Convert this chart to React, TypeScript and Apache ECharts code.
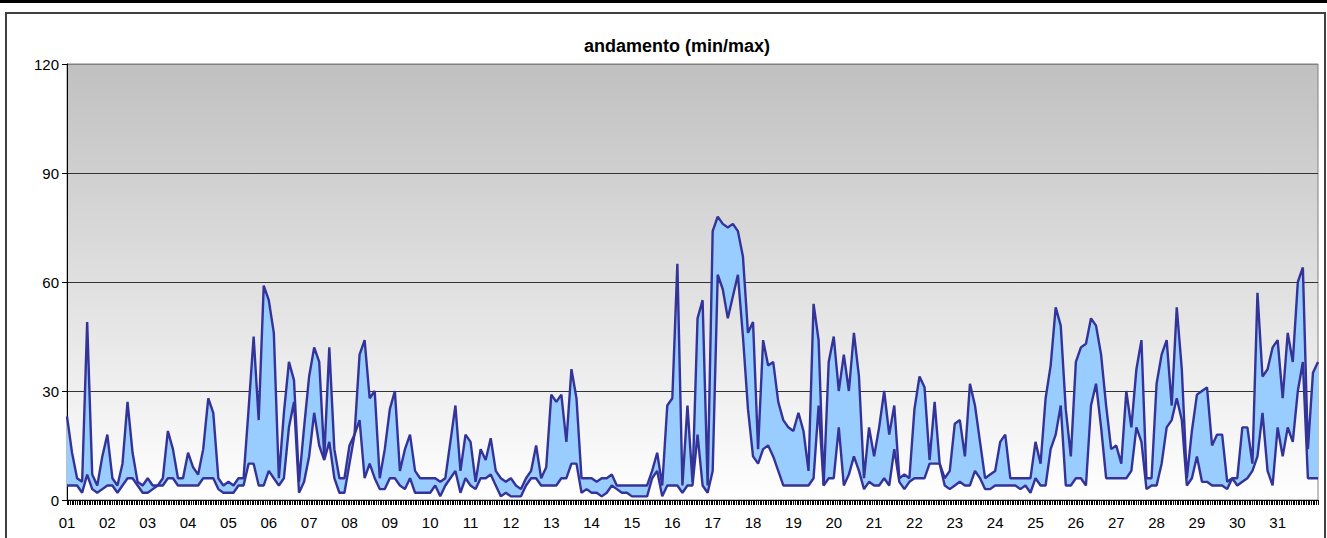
import React, { useEffect, useRef } from "react";
import * as echarts from "echarts";

const title = "andamento (min/max)";
const dayLabels = [
  "01", "02", "03", "04", "05", "06", "07", "08", "09", "10",
  "11", "12", "13", "14", "15", "16", "17", "18", "19", "20",
  "21", "22", "23", "24", "25", "26", "27", "28", "29", "30", "31",
];
const yTicks = [0, 30, 60, 90, 120];
const hoursPerDay = 24;
const hoursPerReading = 3;

// max readings, 8 per day (every 3 hours), plus the closing reading at the right edge
const maxValues = [
  23, 13, 6, 5, 49, 7, 4, 12,
  18, 6, 4, 10, 27, 13, 5, 4,
  6, 4, 4, 6, 19, 14, 6, 6,
  13, 9, 7, 14, 28, 24, 6, 4,
  5, 4, 6, 6, 25, 45, 22, 59,
  55, 46, 6, 24, 38, 33, 5, 20,
  34, 42, 38, 12, 42, 14, 6, 6,
  15, 18, 40, 44, 28, 30, 6, 14,
  25, 30, 8, 14, 18, 8, 6, 6,
  6, 6, 5, 6, 16, 26, 8, 18,
  16, 5, 14, 11, 17, 8, 6, 5,
  6, 4, 3, 6, 8, 15, 6, 9,
  29, 27, 29, 16, 36, 28, 6, 6,
  6, 5, 6, 6, 7, 4, 4, 4,
  4, 4, 4, 4, 8, 13, 4, 26,
  28, 65, 4, 26, 5, 50, 55, 4,
  74, 78, 76, 75, 76, 74, 67, 46,
  49, 14, 44, 37, 38, 27, 22, 20,
  19, 24, 19, 8, 54, 44, 4, 38,
  45, 30, 40, 30, 46, 34, 6, 20,
  12, 20, 30, 18, 26, 6, 7, 6,
  25, 34, 31, 11, 27, 10, 6, 8,
  21, 22, 12, 32, 26, 16, 6, 7,
  8, 16, 18, 6, 6, 6, 6, 6,
  16, 10, 28, 37, 53, 48, 25, 12,
  38, 42, 43, 50, 48, 40, 26, 14,
  15, 10, 30, 20, 36, 44, 6, 6,
  32, 40, 44, 26, 53, 36, 6, 19,
  29, 30, 31, 15, 18, 18, 5, 6,
  6, 20, 20, 10, 57, 34, 36, 42,
  44, 28, 46, 38, 60, 64, 14, 35,
  38,
];

// min readings, 8 per day (every 3 hours), plus the closing reading at the right edge
const minValues = [
  4, 4, 4, 2, 7, 3, 2, 3,
  4, 4, 2, 4, 6, 6, 4, 2,
  2, 3, 4, 4, 6, 6, 4, 4,
  4, 4, 4, 6, 6, 6, 3, 2,
  2, 2, 4, 4, 10, 10, 4, 4,
  8, 6, 4, 6, 20, 27, 2, 5,
  12, 24, 15, 11, 16, 6, 2, 2,
  10, 18, 22, 6, 10, 6, 3, 3,
  6, 6, 4, 3, 6, 2, 2, 2,
  2, 4, 1, 4, 6, 8, 2, 6,
  4, 3, 6, 6, 7, 4, 1, 2,
  1, 1, 1, 4, 6, 6, 4, 4,
  4, 4, 6, 6, 10, 10, 2, 3,
  2, 2, 1, 2, 4, 3, 2, 2,
  1, 1, 1, 1, 6, 8, 1, 4,
  4, 4, 2, 4, 4, 18, 4, 2,
  8, 62, 58, 50, 56, 62, 45, 25,
  12, 10, 14, 15, 12, 8, 4, 4,
  4, 4, 4, 4, 6, 26, 4, 6,
  6, 20, 4, 7, 12, 8, 3, 5,
  4, 4, 6, 4, 14, 5, 3, 5,
  6, 6, 6, 10, 10, 10, 4, 3,
  4, 5, 4, 4, 8, 6, 3, 3,
  4, 4, 4, 4, 4, 3, 4, 2,
  6, 4, 4, 14, 18, 26, 4, 4,
  6, 6, 4, 26, 32, 20, 6, 6,
  6, 6, 6, 8, 20, 16, 3, 4,
  4, 10, 20, 22, 28, 22, 4, 6,
  12, 5, 5, 4, 4, 4, 3, 6,
  4, 5, 6, 8, 12, 24, 8, 4,
  20, 12, 20, 16, 30, 38, 6, 6,
  6,
];

const FONT = "Arial, 'Liberation Sans', sans-serif";

export default function App() {
  const ref = useRef<HTMLDivElement>(null);

  useEffect(() => {
    const el = ref.current;
    if (!el) return;
    const chart = echarts.init(el, null, { renderer: "svg" });
    const totalHours = dayLabels.length * hoursPerDay;
    const readingHours = maxValues.map((_, i) => String(i * hoursPerReading));
    const bandValues = maxValues.map((v, i) => v - minValues[i]);

    chart.setOption({
      animation: false,
      backgroundColor: "#ffffff",
      graphic: [
        { type: "rect", shape: { x: 0, y: 0, width: 1327, height: 3 }, style: { fill: "#000" } },
        {
          type: "rect",
          shape: { x: 6, y: 13, width: 1319, height: 560 },
          style: { fill: "none", stroke: "#404040", lineWidth: 2 },
        },
        {
          type: "text",
          x: 677,
          y: 46,
          style: {
            text: title,
            font: `bold 18px ${FONT}`,
            fill: "#000",
            align: "center",
            verticalAlign: "middle",
          },
        },
      ],
      grid: {
        left: 67,
        right: 9,
        top: 64,
        bottom: 38,
        show: true,
        borderColor: "#808080",
        borderWidth: 1,
        backgroundColor: {
          type: "linear",
          x: 0, y: 0, x2: 0, y2: 1,
          colorStops: [
            { offset: 0, color: "#c0c0c0" },
            { offset: 1, color: "#ffffff" },
          ],
        },
      },
      xAxis: [
        {
          type: "category",
          data: readingHours,
          boundaryGap: false,
          show: false,
        },
        {
          type: "value",
          position: "bottom",
          min: 0,
          max: totalHours,
          interval: hoursPerDay,
          axisLine: { show: true, lineStyle: { color: "#000", width: 1 } },
          axisTick: { show: true, length: 5, lineStyle: { color: "#000" } },
          minorTick: { show: true, splitNumber: hoursPerDay, length: 5, lineStyle: { color: "#000" } },
          splitLine: { show: false },
          axisLabel: {
            fontFamily: FONT,
            fontSize: 15,
            color: "#000",
            margin: 15,
            showMaxLabel: false,
            formatter: (v: number) => dayLabels[Math.round(v / hoursPerDay)] ?? "",
          },
        },
      ],
      yAxis: {
        type: "value",
        min: yTicks[0],
        max: yTicks[yTicks.length - 1],
        interval: yTicks[1] - yTicks[0],
        axisLine: { show: true, lineStyle: { color: "#000", width: 1 } },
        axisTick: { show: true, length: 5, lineStyle: { color: "#000" } },
        splitLine: {
          show: true,
          lineStyle: { color: ["#333", "#333", "#333", "#333", "#808080"], width: 1 },
        },
        axisLabel: { fontFamily: FONT, fontSize: 15, color: "#000", margin: 8 },
      },
      series: [
        {
          name: "min",
          type: "line",
          xAxisIndex: 0,
          stack: "band",
          data: minValues,
          symbol: "none",
          z: 4,
          lineStyle: { color: "#333399", width: 2.4 },
        },
        {
          name: "max",
          type: "line",
          xAxisIndex: 0,
          stack: "band",
          data: bandValues,
          symbol: "none",
          z: 3,
          lineStyle: { color: "#333399", width: 2.4 },
          areaStyle: { color: "#99ccff", opacity: 1 },
        },
      ],
    });
    return () => chart.dispose();
  }, []);

  return (
    <div
      ref={ref}
      style={{ position: "absolute", left: 0, top: 0, width: 1327, height: 538 }}
    />
  );
}
